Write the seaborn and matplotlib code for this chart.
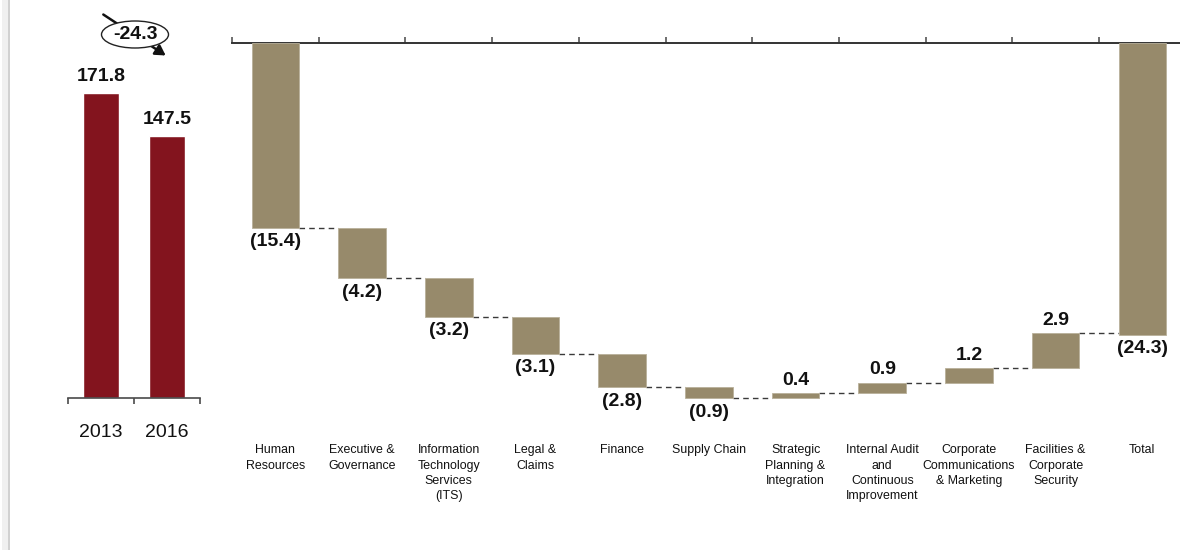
import matplotlib
matplotlib.use("Agg")
import matplotlib.pyplot as plt
import matplotlib.transforms as mtransforms
from matplotlib.patches import Ellipse, FancyArrowPatch, Rectangle
from matplotlib.lines import Line2D
import numpy as np
import pandas as pd
import seaborn as sns

# Headcount totals for the two years
years = ["2013", "2016"]
year_totals = [171.8, 147.5]

# Change by function between the two years
functions = [
    "Human\nResources",
    "Executive &\nGovernance",
    "Information\nTechnology\nServices\n(ITS)",
    "Legal &\nClaims",
    "Finance",
    "Supply Chain",
    "Strategic\nPlanning &\nIntegration",
    "Internal Audit\nand\nContinuous\nImprovement",
    "Corporate\nCommunications\n& Marketing",
    "Facilities &\nCorporate\nSecurity",
]
changes = [-15.4, -4.2, -3.2, -3.1, -2.8, -0.9, 0.4, 0.9, 1.2, 2.9]
total_label = "Total"
total_change = -24.3

YEAR_COLOR = "#83141E"
STEP_COLOR = "#978A6B"
AXIS_COLOR = "#4a4a4a"

sns.set_theme(style="white")
plt.rcParams["font.family"] = ["Liberation Sans", "DejaVu Sans"]

W, H = 1180, 550
fig = plt.figure(figsize=(W / 100, H / 100), dpi=100)


def fig_px(x, y):
    """Convert pixel position (from top-left) to figure fraction."""
    return x / W, 1 - y / H


# ---------------- left panel: year totals ----------------
axl = fig.add_axes([68 / W, 152 / H, 132 / W, 381.6 / H])
df_years = pd.DataFrame({"year": years, "total": year_totals})
sns.barplot(data=df_years, x="year", y="total", color=YEAR_COLOR,
            saturation=1, width=0.56, ax=axl)
axl.set_ylim(0, 215)
axl.set_xlim(-0.5, 1.5)
axl.set_xlabel("")
axl.set_ylabel("")
axl.set_yticks([])
for side in ["top", "left", "right"]:
    axl.spines[side].set_visible(False)
axl.spines["bottom"].set_color(AXIS_COLOR)
axl.spines["bottom"].set_linewidth(1.2)
axl.set_xticks(np.arange(-0.5, len(years)), minor=True)
axl.tick_params(axis="x", which="major", length=0, pad=19, labelsize=14,
                labelcolor="#111111")
axl.tick_params(axis="x", which="minor", length=4, width=1.2,
                color=AXIS_COLOR, direction="out", bottom=True)
for i, v in enumerate(year_totals):
    axl.text(i, v + 4.5, f"{v:.1f}", ha="center", va="bottom",
             fontsize=14, fontweight="bold", color="#111111")

# change callout between the two years
diff = year_totals[1] - year_totals[0]
fig.add_artist(FancyArrowPatch(
    fig_px(101, 13), fig_px(168, 57), transform=fig.transFigure,
    arrowstyle="-|>,head_length=6,head_width=3.5", color="#111111",
    lw=1.8, mutation_scale=1))
fig.add_artist(Ellipse(fig_px(135, 34.5), 67 / W, 27 / H,
                       transform=fig.transFigure, facecolor="white",
                       edgecolor="#222222", lw=1.0, zorder=5))
fig.text(*fig_px(135, 34.5), f"{diff:.1f}", ha="center", va="center",
         fontsize=14, fontweight="bold", color="#111111", zorder=6)

# thin frame line at the left edge
fig.add_artist(Rectangle(fig_px(2, 550), 6 / W, 1, transform=fig.transFigure,
                         facecolor="#f0f0f0", edgecolor="none"))
fig.add_artist(Line2D([8.5 / W, 8.5 / W], [0, 1], transform=fig.transFigure,
                      color="#c8c8c8", lw=1.2))

# ---------------- right panel: waterfall ----------------
axr = fig.add_axes([232 / W, 140 / H, 953.7 / W, 367 / H])
labels = functions + [total_label]
n = len(labels)
cum = np.concatenate([[0.0], np.cumsum(changes)])
bottoms = list(cum[:-1]) + [0.0]
heights = list(changes) + [total_change]
bar_w = 0.55
xs = np.arange(n)
axr.bar(xs, heights, bottom=bottoms, width=bar_w, color=STEP_COLOR,
        edgecolor="#b9b09a", linewidth=0.6, zorder=3)
axr.set_xlim(-0.5, n - 0.5)
axr.set_ylim(-30.58, 0)

# dashed connectors between consecutive bars
for i in range(n - 1):
    level = cum[i + 1]
    axr.plot([xs[i] + bar_w / 2, xs[i + 1] - bar_w / 2], [level, level],
             color="#3a3a3a", lw=1.0, dashes=(4, 3), zorder=2)

# value labels
for i, (b, h) in enumerate(zip(bottoms, heights)):
    if h < 0:
        axr.annotate(f"({abs(h):.1f})", (xs[i], b + h), xytext=(0, -4),
                     textcoords="offset points", ha="center", va="top",
                     fontsize=14, fontweight="bold", color="#111111")
    else:
        axr.annotate(f"{h:.1f}", (xs[i], b + h), xytext=(0, 3),
                     textcoords="offset points", ha="center", va="bottom",
                     fontsize=14, fontweight="bold", color="#111111")

# category labels under the plot
trans = mtransforms.blended_transform_factory(axr.transData, axr.transAxes)
for i, lab in enumerate(labels):
    axr.text(xs[i], -0.093, lab, transform=trans, ha="center", va="top",
             fontsize=8.9, linespacing=1.38, color="#111111")

axr.set_xticks([])
axr.set_yticks([])
for side in ["bottom", "left", "right"]:
    axr.spines[side].set_visible(False)
axr.spines["top"].set_color("#333333")
axr.spines["top"].set_linewidth(1.4)
axr.set_xticks(np.arange(-0.5, n), minor=True)
axr.tick_params(axis="x", which="minor", top=True, bottom=False,
                length=4, width=1.2, color="#555555", direction="out")

fig.savefig("out.png", dpi=100)
